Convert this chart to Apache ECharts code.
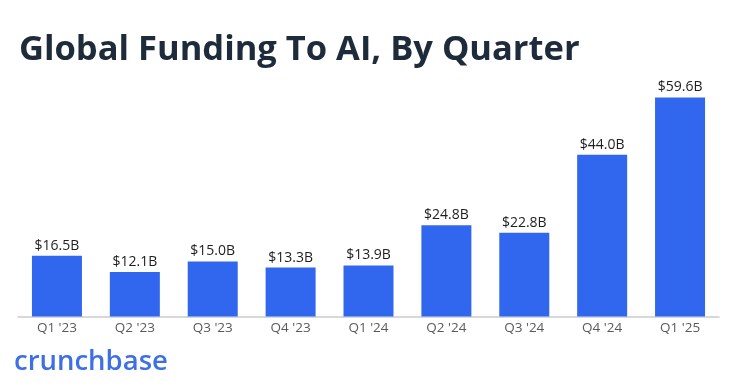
<!DOCTYPE html>
<html><head><meta charset="utf-8">
<script src="https://cdn.jsdelivr.net/npm/echarts@6/dist/echarts.min.js"></script>
<style>html,body{margin:0;padding:0;background:#fff}#c{width:755px;height:392px}</style>
</head><body><div id="c"></div>
<script>
const categories = ["Q1 '23","Q2 '23","Q3 '23","Q4 '23","Q1 '24","Q2 '24","Q3 '24","Q4 '24","Q1 '25"];
const funding = [16.5, 12.1, 15.0, 13.3, 13.9, 24.8, 22.8, 44.0, 59.6];
const titleText = "Global Funding To AI, By Quarter";
const brandText = "crunchbase";

const chart = echarts.init(document.getElementById('c'));
chart.setOption({
  backgroundColor: '#fff',
  animation: false,
  title: {
    text: titleText, left: 14, top: 28,
    textStyle: { fontFamily: 'Open Sans', fontWeight: 'bold', fontSize: 34.5, color: '#1e2b3a' }
  },
  graphic: [{
    type: 'text', left: 14, top: 348,
    style: { text: brandText, font: '600 27.5px "Open Sans"', fill: '#3d6fe6' }
  }],
  grid: { left: 18, right: 36, top: 96, bottom: 75.5 },
  xAxis: {
    type: 'category', data: categories,
    axisLine: { show: true, lineStyle: { color: '#c9ccd1', width: 1.5 } },
    axisTick: { show: false },
    axisLabel: { color: '#5a5a5a', fontSize: 13.5, fontFamily: 'Open Sans', margin: 5 }
  },
  yAxis: { type: 'value', min: 0, max: 60, show: false, splitLine: { show: false } },
  series: [{
    type: 'bar', data: funding, barWidth: 50,
    itemStyle: { color: '#3167ef' },
    label: {
      show: true, position: 'top', distance: 3,
      formatter: p => '$' + p.value.toFixed(1) + 'B',
      color: '#1e1e1e', fontSize: 14, fontFamily: 'Open Sans'
    }
  }]
});
</script></body></html>
